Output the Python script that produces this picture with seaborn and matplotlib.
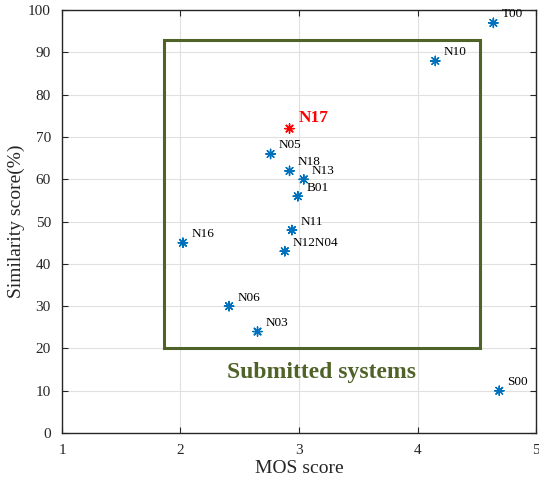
import matplotlib
matplotlib.use("Agg")
import matplotlib.pyplot as plt
import seaborn as sns
import pandas as pd
from matplotlib.patches import Rectangle

systems = ["T00", "N10", "N17", "N05", "N18", "N13", "B01", "N11", "N16", "N12N04", "N06", "N03", "S00"]
mos = [4.64, 4.15, 2.92, 2.76, 2.92, 3.04, 2.99, 2.94, 2.02, 2.88, 2.41, 2.65, 4.69]
similarity = [97, 88, 72, 66, 62, 60, 56, 48, 45, 43, 30, 24, 10]
highlight = ["N17"]

df = pd.DataFrame({"system": systems, "mos": mos, "sim": similarity})
df["group"] = ["hl" if s in highlight else "normal" for s in systems]

sns.set_style("ticks")
plt.rcParams["font.family"] = ["Liberation Serif", "DejaVu Serif"]

fig = plt.figure(figsize=(5.39, 4.86), dpi=100)
ax = fig.add_axes([0.115, 0.109, 0.8795, 0.870])

sns.scatterplot(data=df, x="mos", y="sim", hue="group",
                palette={"normal": "#0072BD", "hl": "#FF0000"},
                marker=(8, 2, 0), s=45, linewidth=1.0, legend=False, ax=ax, zorder=3)

for s, xv, yv in zip(systems, mos, similarity):
    if s in highlight:
        ax.text(xv + 0.08, yv + 0.5, s, color="red", fontsize=12.5, fontweight="bold",
                va="bottom", ha="left")
    else:
        ax.text(xv + 0.07, yv + 0.6, s, color="black", fontsize=9.5, va="bottom", ha="left")

ax.add_patch(Rectangle((1.86, 20), 4.53 - 1.86, 93 - 20, fill=False,
                       edgecolor="#4F6228", linewidth=2.2, zorder=2))
ax.text(3.19, 14.2, "Submitted systems", color="#4F6228", fontsize=17,
        fontweight="bold", ha="center", va="center")

ax.set_xlim(1, 5)
ax.set_ylim(0, 100)
ax.set_xticks([1, 2, 3, 4, 5])
ax.set_yticks(range(0, 101, 10))
ax.grid(True, color="#E0E0E0", linewidth=0.8)
ax.set_axisbelow(True)
ax.tick_params(direction="in", top=True, right=True, labelsize=11, length=4, pad=8)
for sp in ax.spines.values():
    sp.set_linewidth(1.0)
    sp.set_color("#262626")
ax.set_xlabel("MOS score", fontsize=14, labelpad=2)
ax.set_ylabel("Similarity score(%)", fontsize=14, labelpad=2)

fig.savefig("out.png", dpi=100)
